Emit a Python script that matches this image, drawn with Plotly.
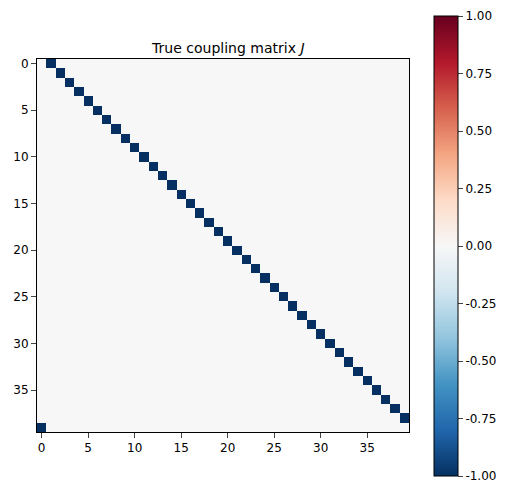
import plotly.graph_objects as go

# Matrix size and nonzero couplings
n = 40
rows = [0, 1, 2, 3, 4, 5, 6, 7, 8, 9, 10, 11, 12, 13, 14, 15, 16, 17, 18, 19,
        20, 21, 22, 23, 24, 25, 26, 27, 28, 29, 30, 31, 32, 33, 34, 35, 36, 37, 38, 39]
cols = [1, 2, 3, 4, 5, 6, 7, 8, 9, 10, 11, 12, 13, 14, 15, 16, 17, 18, 19, 20,
        21, 22, 23, 24, 25, 26, 27, 28, 29, 30, 31, 32, 33, 34, 35, 36, 37, 38, 39, 0]
vals = [-1] * 40

z = [[0] * n for _ in range(n)]
for r, c, v in zip(rows, cols, vals):
    z[r][c] = v

rdbu_r = ["#053061", "#2166ac", "#4393c3", "#92c5de", "#d1e5f0", "#f7f7f7",
          "#fddbc7", "#f4a582", "#d6604d", "#b2182b", "#67001f"]
scale = [[i / 10, c] for i, c in enumerate(rdbu_r)]

cb_ticks = [-1, -0.75, -0.5, -0.25, 0, 0.25, 0.5, 0.75, 1]

fig = go.Figure(go.Heatmap(
    z=z, zmin=-1, zmax=1, colorscale=scale,
    colorbar=dict(
        x=1.04, xanchor="left", thickness=24, lenmode="pixels", len=480,
        y=0.498, outlinewidth=1, outlinecolor="black", ticks="outside",
        tickvals=[t * 0.9999 for t in cb_ticks],
        ticktext=["%.2f" % t for t in cb_ticks],
        tickfont=dict(size=12, color="black"),
    ),
))

axis = dict(showgrid=False, zeroline=False, ticks="outside", showline=True,
            linecolor="black", mirror=True, tickvals=[0, 5, 10, 15, 20, 25, 30, 35],
            tickfont=dict(size=12, color="black"))
fig.update_xaxes(range=[-0.5, 39.5], **axis)
fig.update_yaxes(range=[39.5, -0.5], **axis)

fig.update_layout(
    width=510, height=487,
    margin=dict(l=29, r=109, t=51, b=63, autoexpand=False),
    plot_bgcolor="white", paper_bgcolor="white",
    font=dict(family="DejaVu Sans", color="black"),
    title=dict(text="True coupling matrix <i>J</i>", x=0.432, xanchor="center",
               y=1 - 40 / 487, yanchor="middle", font=dict(size=14)),
)

fig.write_html("out.html")
